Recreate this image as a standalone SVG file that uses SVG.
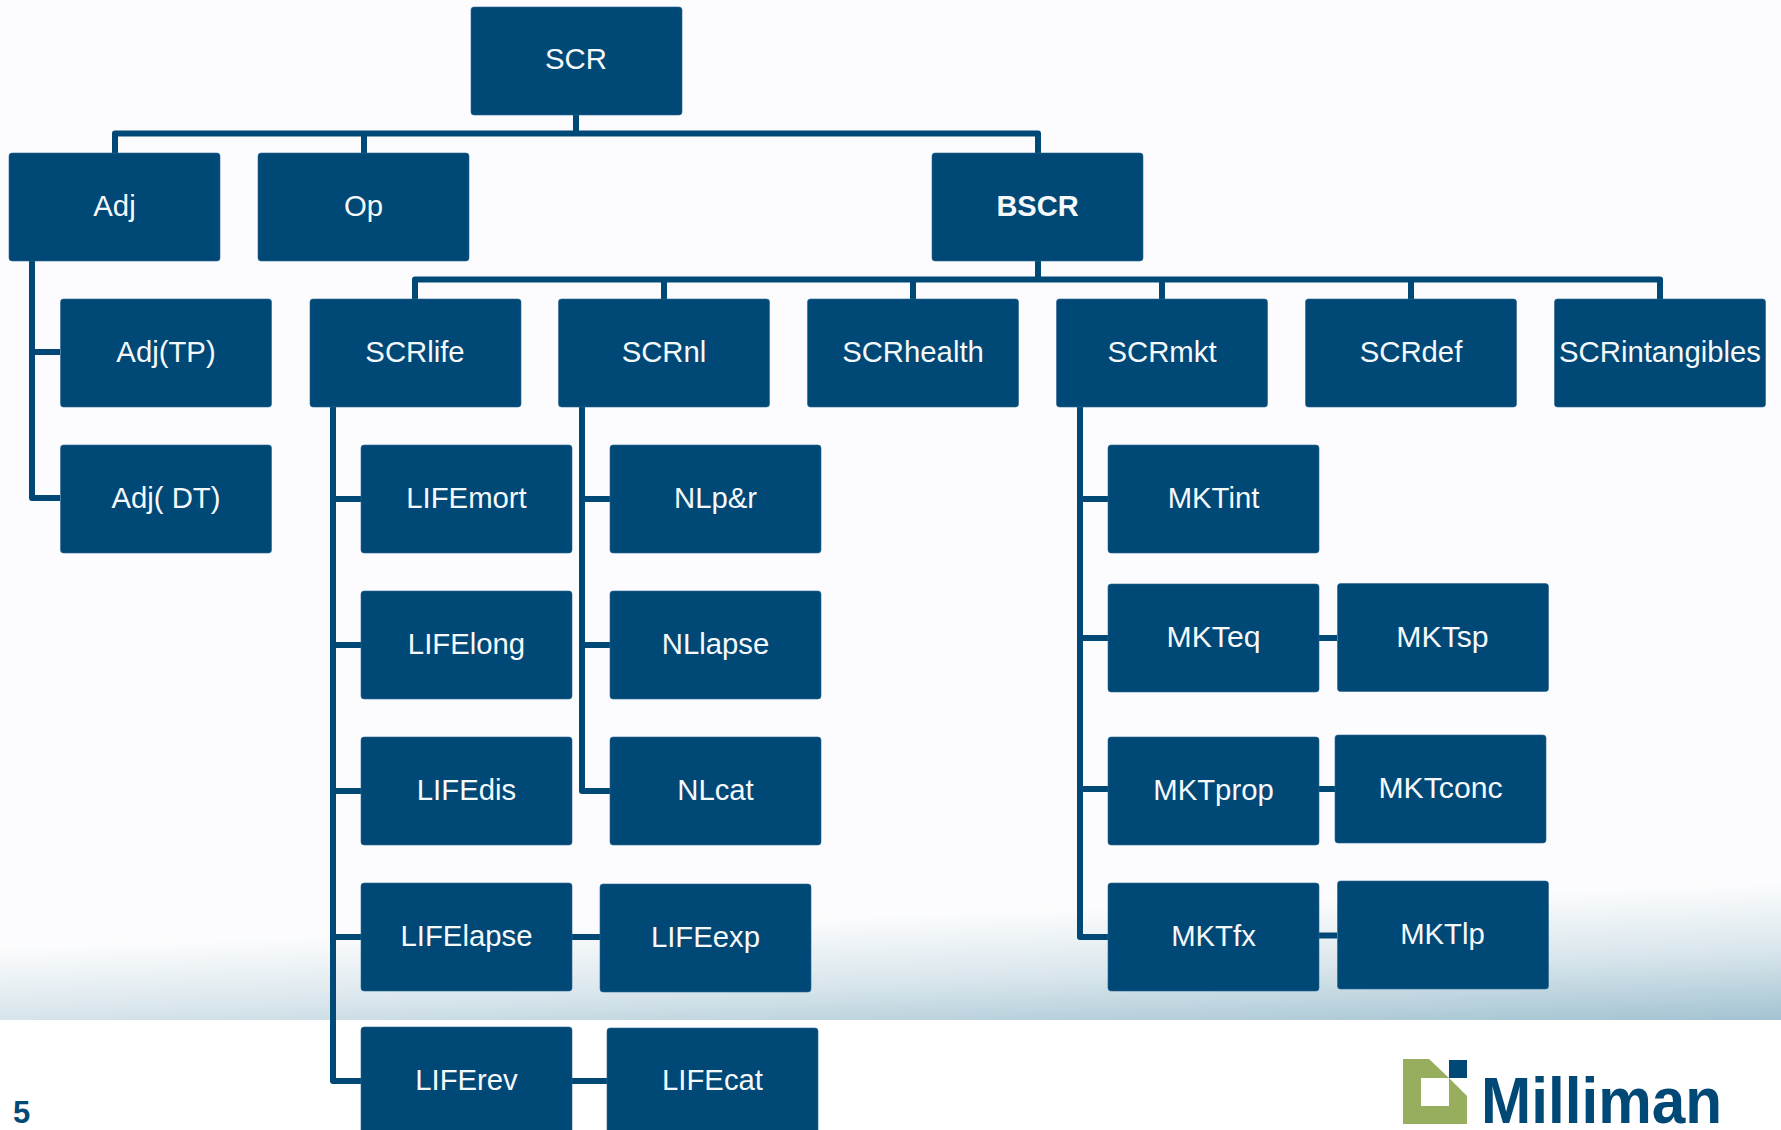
<svg xmlns="http://www.w3.org/2000/svg" width="1781" height="1130" viewBox="0 0 1781 1130">
<style>
.b{fill:#004876;stroke:#2a6490;stroke-width:.6}
.t{fill:#f6f9fb;font-family:"Liberation Sans",Arial,sans-serif;font-size:29.3px;text-anchor:middle}
.k{font-weight:700;font-size:29px}
.w{font-size:30.2px}
.c{fill:none;stroke:#004876;stroke-width:6;stroke-linejoin:round}
</style>
<defs>
<linearGradient id="bg" gradientUnits="userSpaceOnUse" x1="1781" y1="880" x2="1786.100" y2="1019.800">
<stop offset="0" stop-color="#fdfdfe"/><stop offset=".5" stop-color="#d9e6ec"/><stop offset="1" stop-color="#a3c3d2"/>
</linearGradient>
</defs>
<rect width="1781" height="1020" fill="#fcfcfe"/>
<rect y="1020" width="1781" height="110" fill="#fff"/>
<path fill="url(#bg)" d="M0 945L1781 880V1020H0Z"/>
<g id="connectors">
<path class="c" d="M576 114V133.500M115 153V133.500H1038V153M364 133.500V153"/>
<path class="c" d="M1038 260V279.500M415 299V279.500H1660V299M664 279.500V299M913 279.500V299M1162 279.500V299M1411 279.500V299"/>
<path class="c" d="M32 260V498H60M32 352H60"/>
<path class="c" d="M333 407V1081H361M333 499H361M333 645H361M333 791H361M333 937H361"/>
<path class="c" d="M582 407V791H610M582 499H610M582 645H610"/>
<path class="c" d="M1080 407V937H1108M1080 499H1108M1080 638H1108M1080 789H1108"/>
<path class="c" d="M572 937H600M572 1081H607M1319 638H1337M1319 789H1335M1319 935.500H1337"/>
</g>
<g id="SCR"><rect class="b" x="471" y="7" width="211" height="108" rx="3"/><text class="t" x="576" y="69">SCR</text></g>
<g id="Adj"><rect class="b" x="9" y="153" width="211" height="108" rx="3"/><text class="t" x="114.500" y="216">Adj</text></g>
<g id="Op"><rect class="b" x="258" y="153" width="211" height="108" rx="3"/><text class="t" x="363.500" y="216">Op</text></g>
<g id="BSCR"><rect class="b" x="932" y="153" width="211" height="108" rx="3"/><text class="t k" x="1037.500" y="216">BSCR</text></g>
<g id="AdjTP"><rect class="b" x="60.500" y="299" width="211" height="108" rx="3"/><text class="t" x="166" y="362">Adj(TP)</text></g>
<g id="SCRlife"><rect class="b" x="310" y="299" width="211" height="108" rx="3"/><text class="t" x="415" y="362">SCRlife</text></g>
<g id="SCRnl"><rect class="b" x="558.500" y="299" width="211" height="108" rx="3"/><text class="t" x="664" y="362">SCRnl</text></g>
<g id="SCRhealth"><rect class="b" x="807.500" y="299" width="211" height="108" rx="3"/><text class="t" x="913" y="362">SCRhealth</text></g>
<g id="SCRmkt"><rect class="b" x="1056.500" y="299" width="211" height="108" rx="3"/><text class="t" x="1162" y="362">SCRmkt</text></g>
<g id="SCRdef"><rect class="b" x="1305.500" y="299" width="211" height="108" rx="3"/><text class="t" x="1411" y="362">SCRdef</text></g>
<g id="SCRintangibles"><rect class="b" x="1554.500" y="299" width="211" height="108" rx="3"/><text class="t" x="1660" y="362">SCRintangibles</text></g>
<g id="AdjDT"><rect class="b" x="60.500" y="445" width="211" height="108" rx="3"/><text class="t" x="166" y="508">Adj( DT)</text></g>
<g id="LIFEmort"><rect class="b" x="361" y="445" width="211" height="108" rx="3"/><text class="t" x="466.500" y="508">LIFEmort</text></g>
<g id="NLpr"><rect class="b" x="610" y="445" width="211" height="108" rx="3"/><text class="t" x="715.500" y="508">NLp&amp;r</text></g>
<g id="MKTint"><rect class="b" x="1108" y="445" width="211" height="108" rx="3"/><text class="t" x="1213.500" y="508">MKTint</text></g>
<g id="LIFElong"><rect class="b" x="361" y="591" width="211" height="108" rx="3"/><text class="t" x="466.500" y="654">LIFElong</text></g>
<g id="NLlapse"><rect class="b" x="610" y="591" width="211" height="108" rx="3"/><text class="t" x="715.500" y="654">NLlapse</text></g>
<g id="MKTeq"><rect class="b" x="1108" y="584" width="211" height="108" rx="3"/><text class="t w" x="1213.500" y="647">MKTeq</text></g>
<g id="MKTsp"><rect class="b" x="1337.500" y="583.500" width="211" height="108" rx="3"/><text class="t w" x="1442.500" y="647">MKTsp</text></g>
<g id="LIFEdis"><rect class="b" x="361" y="737" width="211" height="108" rx="3"/><text class="t" x="466.500" y="800">LIFEdis</text></g>
<g id="NLcat"><rect class="b" x="610" y="737" width="211" height="108" rx="3"/><text class="t" x="715.500" y="800">NLcat</text></g>
<g id="MKTprop"><rect class="b" x="1108" y="737" width="211" height="108" rx="3"/><text class="t" x="1213.500" y="800">MKTprop</text></g>
<g id="MKTconc"><rect class="b" x="1335" y="735" width="211" height="108" rx="3"/><text class="t w" x="1440.500" y="798">MKTconc</text></g>
<g id="LIFElapse"><rect class="b" x="361" y="883" width="211" height="108" rx="3"/><text class="t" x="466.500" y="946">LIFElapse</text></g>
<g id="LIFEexp"><rect class="b" x="600" y="884" width="211" height="108" rx="3"/><text class="t" x="705.500" y="947">LIFEexp</text></g>
<g id="MKTfx"><rect class="b" x="1108" y="883" width="211" height="108" rx="3"/><text class="t" x="1213.500" y="946">MKTfx</text></g>
<g id="MKTlp"><rect class="b" x="1337.500" y="881" width="211" height="108" rx="3"/><text class="t" x="1442.500" y="944">MKTlp</text></g>
<g id="LIFErev"><rect class="b" x="361" y="1027" width="211" height="108" rx="3"/><text class="t" x="466.500" y="1090">LIFErev</text></g>
<g id="LIFEcat"><rect class="b" x="607" y="1028" width="211" height="108" rx="3"/><text class="t" x="712.500" y="1090">LIFEcat</text></g>
<text x="13" y="1123" fill="#004876" font-family="Liberation Sans,Arial,sans-serif" font-weight="700" font-size="31">5</text>
<g id="logo">
<path fill="#97ae5f" fill-rule="evenodd" d="M1403 1059H1429L1449 1078H1421V1106H1449V1078L1467 1096V1124H1403Z"/>
<rect x="1449" y="1060" width="18" height="18" fill="#004876"/>
<text x="1481" y="1123" fill="#004876" font-family="Liberation Sans,Arial,sans-serif" font-weight="700" font-size="64" textLength="241" lengthAdjust="spacingAndGlyphs">Milliman</text>
</g>
</svg>
